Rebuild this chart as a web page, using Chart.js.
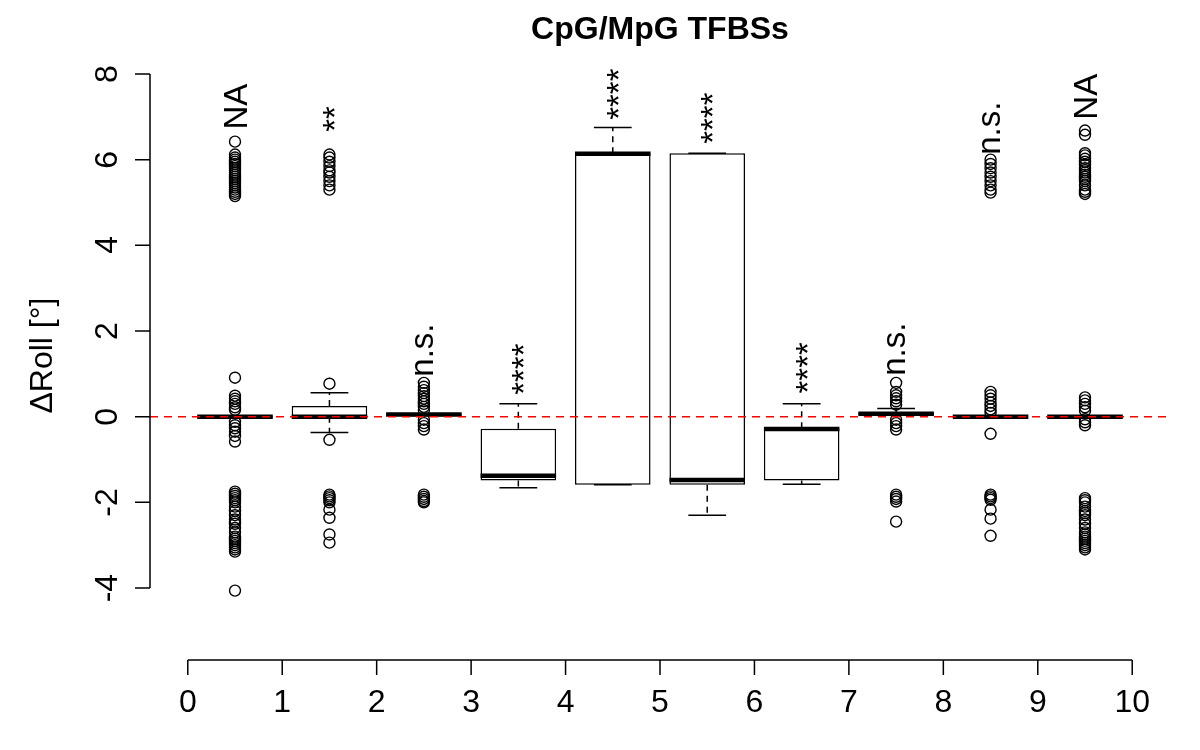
<!DOCTYPE html>
<html><head><meta charset="utf-8">
<script src="https://cdn.jsdelivr.net/npm/chart.js@4/dist/chart.umd.min.js"></script>
<style>html,body{margin:0;padding:0;background:#fff}</style>
</head><body>
<canvas id="c" width="1200" height="750"></canvas>
<script>
// ---- data ----
const positions = [0.5, 1.5, 2.5, 3.5, 4.5, 5.5, 6.5, 7.5, 8.5, 9.5];
const whiskerLow  = [-0.02, -0.37, 0.03, -1.66, -1.59, -2.30, -1.58, 0.04, -0.02, -0.02];
const quart1      = [-0.02,  0.00, 0.03, -1.49, -1.59, -1.59, -1.49, 0.04, -0.02, -0.02];
const medians     = [ 0.00,  0.00, 0.05, -1.38,  6.14, -1.48, -0.29, 0.07,  0.00,  0.00];
const quart3      = [ 0.02,  0.25, 0.07, -0.28,  6.15,  6.15, -0.27, 0.09,  0.02,  0.02];
const whiskerHigh = [ 0.02,  0.56, 0.07,  0.30,  6.75,  6.15,  0.30, 0.19,  0.02,  0.02];

const outliers1 = [6.42, 6.12, 6.05, 6.0, 5.95, 5.9, 5.85, 5.8, 5.75, 5.7, 5.65, 5.6, 5.55, 5.5, 5.45, 5.4, 5.35, 5.3, 5.25, 5.2, 5.15,
  0.91, 0.49, 0.42, 0.36, 0.3, 0.22, 0.16, -0.12, -0.2, -0.27, -0.35, -0.45, -0.58,
  -1.75, -1.8, -1.85, -1.9, -1.95, -2.0, -2.1, -2.2, -2.3, -2.4, -2.45, -2.5, -2.6, -2.7, -2.8, -2.85, -2.9, -2.95, -3.0, -3.05, -3.1, -3.15, -4.06];
const outliers2 = [6.12, 6.05, 5.95, 5.85, 5.75, 5.7, 5.6, 5.5, 5.4, 5.3, 0.77, -0.54,
  -1.82, -1.86, -1.9, -1.95, -2.0, -2.17, -2.36, -2.75, -2.94];
const outliers3 = [0.79, 0.7, 0.62, 0.55, 0.48, 0.42, 0.36, 0.3, 0.23, 0.15, -0.07, -0.15, -0.22, -0.3,
  -1.82, -1.87, -1.92, -1.97, -2.0];
const outliers4 = [];
const outliers5 = [];
const outliers6 = [];
const outliers7 = [];
const outliers8 = [0.79, 0.58, 0.5, 0.43, 0.36, 0.28, -0.07, -0.15, -0.22, -0.3,
  -1.82, -1.87, -1.92, -1.98, -2.45];
const outliers9 = [6.0, 5.9, 5.8, 5.7, 5.6, 5.5, 5.4, 5.3, 5.23, 0.58, 0.5, 0.42, 0.33, 0.25, 0.17, 0.09, -0.4,
  -1.82, -1.86, -1.9, -1.94, -2.17, -2.38, -2.78];
const outliers10 = [6.68, 6.58, 6.15, 6.1, 6.02, 5.95, 5.88, 5.8, 5.75, 5.7, 5.65, 5.6, 5.55, 5.5, 5.4, 5.3, 5.25, 5.2,
  0.45, 0.38, 0.3, 0.22, 0.14, -0.06, -0.13, -0.2,
  -1.9, -1.95, -2.0, -2.1, -2.2, -2.25, -2.3, -2.4, -2.5, -2.6, -2.7, -2.75, -2.8, -2.85, -2.9, -2.95, -3.0, -3.05, -3.1];
const outlierGroups = [outliers1, outliers2, outliers3, outliers4, outliers5, outliers6, outliers7, outliers8, outliers9, outliers10];

const annotationLabels = ['NA', '**', 'n.s.', '****', '****', '****', '****', 'n.s.', 'n.s.', 'NA'];
const annotationY      = [6.75, 6.65, 0.98, 0.51, 6.93, 6.37, 0.54, 1.0, 6.16, 6.98];

const xTickValues = [0, 1, 2, 3, 4, 5, 6, 7, 8, 9, 10];
const yTickValues = [-4, -2, 0, 2, 4, 6, 8];
const titleText = 'CpG/MpG TFBSs';
const yAxisTitle = 'ΔRoll [°]';
const referenceY = 0;

// ---- chart ----
const FONT = '"Liberation Sans", Arial, Helvetica, sans-serif';

const outlierPoints = [];
outlierGroups.forEach((g, i) => g.forEach(v => outlierPoints.push({x: positions[i], y: v})));

function drawRot(ctx, text, cx, cy, mode) {
  ctx.save();
  ctx.translate(cx, cy);
  ctx.rotate(-Math.PI / 2);
  ctx.textAlign = 'left';
  ctx.textBaseline = 'alphabetic';
  const m = ctx.measureText(text);
  const yOff = (m.actualBoundingBoxAscent - m.actualBoundingBoxDescent) / 2;
  let xOff;
  if (mode === 'start') xOff = m.actualBoundingBoxLeft;
  else xOff = -(m.actualBoundingBoxRight - m.actualBoundingBoxLeft) / 2;
  ctx.fillText(text, xOff, yOff);
  ctx.restore();
}

const boxExtras = {
  id: 'boxExtras',
  afterDatasetDraw(chart, args) {
    if (args.index !== 0) return;
    const ctx = chart.ctx;
    const ys = chart.scales.y;
    const meta = chart.getDatasetMeta(0);
    ctx.save();
    ctx.strokeStyle = '#000';
    meta.data.forEach((bar, i) => {
      const x = bar.x, w = bar.width;
      const cap = w / 4;
      ctx.lineWidth = 1.5;
      ctx.setLineDash([6, 5]);
      ctx.beginPath();
      if (whiskerHigh[i] > quart3[i]) {
        ctx.moveTo(x, ys.getPixelForValue(quart3[i]));
        ctx.lineTo(x, ys.getPixelForValue(whiskerHigh[i]));
      }
      if (whiskerLow[i] < quart1[i]) {
        ctx.moveTo(x, ys.getPixelForValue(quart1[i]));
        ctx.lineTo(x, ys.getPixelForValue(whiskerLow[i]));
      }
      ctx.stroke();
      ctx.setLineDash([]);
      ctx.beginPath();
      [whiskerHigh[i], whiskerLow[i]].forEach(v => {
        const py = ys.getPixelForValue(v);
        ctx.moveTo(x - cap, py); ctx.lineTo(x + cap, py);
      });
      ctx.stroke();
      ctx.lineWidth = 4.5;
      ctx.beginPath();
      const pm = ys.getPixelForValue(medians[i]);
      ctx.moveTo(x - w / 2, pm); ctx.lineTo(x + w / 2, pm);
      ctx.stroke();
    });
    ctx.restore();
  },
  afterDraw(chart) {
    const ctx = chart.ctx;
    const xs = chart.scales.x, ys = chart.scales.y;
    const ca = chart.chartArea;
    ctx.save();
    ctx.strokeStyle = '#000';
    ctx.fillStyle = '#000';
    ctx.lineWidth = 1.5;
    ctx.beginPath();
    ctx.moveTo(ca.left, ys.getPixelForValue(yTickValues[0]));
    ctx.lineTo(ca.left, ys.getPixelForValue(yTickValues[yTickValues.length - 1]));
    yTickValues.forEach(v => {
      const py = ys.getPixelForValue(v);
      ctx.moveTo(ca.left, py); ctx.lineTo(ca.left - 15, py);
    });
    ctx.moveTo(xs.getPixelForValue(xTickValues[0]), ca.bottom);
    ctx.lineTo(xs.getPixelForValue(xTickValues[xTickValues.length - 1]), ca.bottom);
    xTickValues.forEach(v => {
      const px = xs.getPixelForValue(v);
      ctx.moveTo(px, ca.bottom); ctx.lineTo(px, ca.bottom + 15);
    });
    ctx.stroke();
    ctx.font = '32px ' + FONT;
    yTickValues.forEach(v => drawRot(ctx, String(v), ca.left - 44, ys.getPixelForValue(v), 'center'));
    ctx.textAlign = 'center';
    ctx.textBaseline = 'alphabetic';
    xTickValues.forEach(v => ctx.fillText(String(v), xs.getPixelForValue(v), ca.bottom + 52));
    drawRot(ctx, yAxisTitle, 44, (ca.top + ca.bottom) / 2, 'center');
    ctx.font = '33px ' + FONT;
    annotationLabels.forEach((t, i) => drawRot(ctx, t, xs.getPixelForValue(positions[i]), ys.getPixelForValue(annotationY[i]), 'start'));
    ctx.restore();
  }
};

new Chart(document.getElementById('c'), {
  type: 'bar',
  data: {
    datasets: [
      {
        type: 'bar',
        data: positions.map((x, i) => ({x: x, y: [quart1[i], quart3[i]]})),
        backgroundColor: '#ffffff',
        borderColor: '#000000',
        borderWidth: 1.5,
        borderSkipped: false,
        barPercentage: 0.8,
        categoryPercentage: 1.0,
        order: 3
      },
      {
        type: 'scatter',
        data: outlierPoints,
        pointStyle: 'circle',
        pointRadius: 5.5,
        pointBorderWidth: 1.4,
        pointBorderColor: '#000000',
        pointBackgroundColor: 'rgba(0,0,0,0)',
        showLine: false,
        order: 2
      },
      {
        type: 'line',
        data: [{x: -0.4, y: referenceY}, {x: 10.4, y: referenceY}],
        borderColor: '#ff0000',
        borderWidth: 1.5,
        borderDash: [8, 6],
        pointRadius: 0,
        fill: false,
        order: 1
      }
    ]
  },
  options: {
    responsive: false,
    animation: false,
    devicePixelRatio: 1,
    layout: {padding: {left: 150, right: 30, top: 0, bottom: 90}},
    plugins: {
      legend: {display: false},
      tooltip: {enabled: false},
      title: {
        display: true,
        text: titleText,
        color: '#000',
        font: {family: FONT, size: 32, weight: 'bold', lineHeight: 1.2},
        padding: {top: 11, bottom: 3.6}
      }
    },
    scales: {
      x: {type: 'linear', min: -0.4, max: 10.4, offset: false, display: false},
      y: {type: 'linear', min: -5.68, max: 8.49, display: false, beginAtZero: false}
    }
  },
  plugins: [boxExtras]
});
</script>
</body></html>
